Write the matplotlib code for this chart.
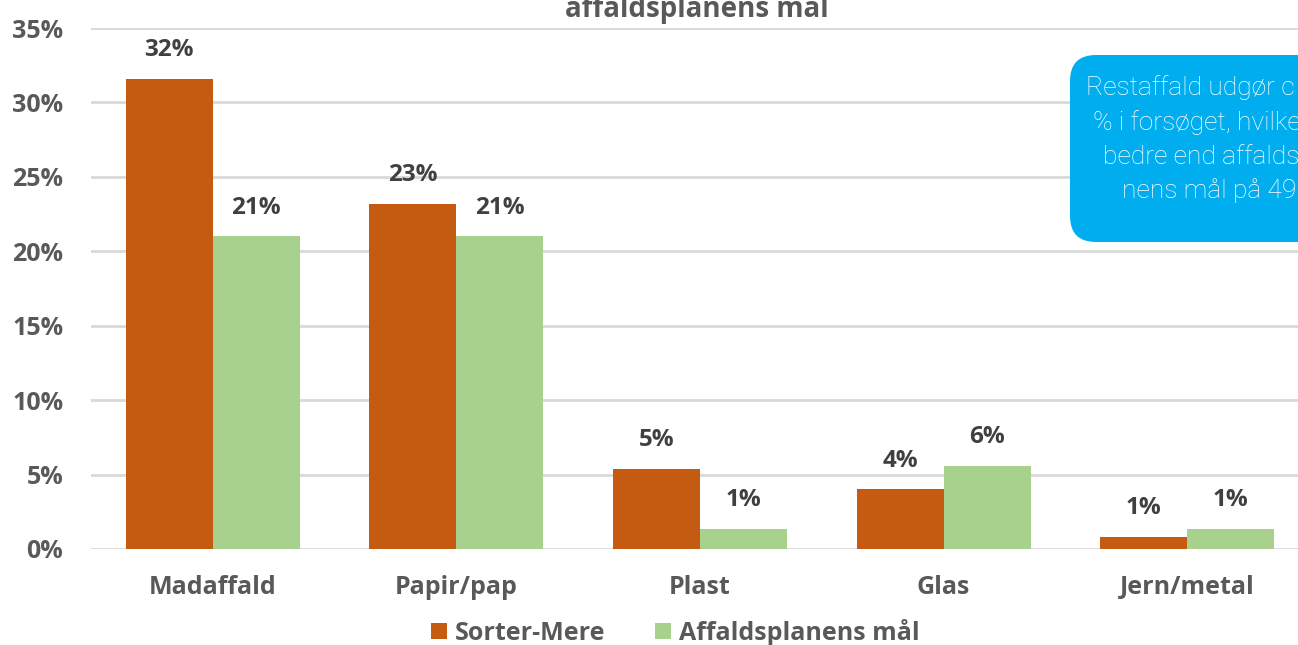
import numpy as np
import matplotlib
matplotlib.use('Agg')
from matplotlib import pyplot as plt
from matplotlib.patches import FancyBboxPatch
from matplotlib.transforms import IdentityTransform

# ---------------- data ----------------
categories = ['Madaffald', 'Papir/pap', 'Plast', 'Glas', 'Jern/metal']
sorter_mere = [31.6, 23.2, 5.4, 4.0, 0.8]
plan_maal = [21.0, 21.0, 1.35, 5.6, 1.35]
sorter_labels = ['32%', '23%', '5%', '4%', '1%']
plan_labels = ['21%', '21%', '1%', '6%', '1%']
yticks = [0, 5, 10, 15, 20, 25, 30, 35]
callout_lines = ['Restaffald udgør c', '% i forsøget, hvilke',
                 'bedre end affalds', 'nens mål på 49']

orange = '#C55A11'
green = '#A9D18E'
grey_txt = '#595959'
dark_txt = '#404040'

plt.rcParams['font.family'] = ['Open Sans', 'DejaVu Sans']

fig = plt.figure(figsize=(12.98, 6.45), dpi=100)
ax = fig.add_axes([91 / 1298, 96 / 645, 1218 / 1298, 521 / 645])

x = np.arange(len(categories))
w = 0.357
b1 = ax.bar(x - w / 2, sorter_mere, w, color=orange, label='Sorter-Mere', zorder=3)
b2 = ax.bar(x + w / 2, plan_maal, w, color=green, label='Affaldsplanens mål', zorder=3)

# data labels above the bars
for bars, labs in ((b1, sorter_labels), (b2, plan_labels)):
    for rect, lab in zip(bars, labs):
        ax.annotate(lab, (rect.get_x() + rect.get_width() / 2, rect.get_height()),
                    xytext=(0, 12), textcoords='offset points', ha='center', va='bottom',
                    fontsize=17.5, fontweight='bold', color=dark_txt)

ax.set_xlim(-0.5, len(categories) - 0.5)
ax.set_ylim(0, 35)
ax.set_yticks(yticks)
ax.set_yticklabels([f'{v}%' for v in yticks])
ax.set_xticks(x)
ax.set_xticklabels(categories)
ax.tick_params(axis='y', length=0, pad=20, labelsize=18, labelcolor=grey_txt)
ax.tick_params(axis='x', length=0, pad=19, labelsize=18, labelcolor=grey_txt)
for lab in ax.get_xticklabels() + ax.get_yticklabels():
    lab.set_fontweight('bold')
ax.grid(axis='y', color='#D9D9D9', linewidth=2, zorder=0)
for s in ax.spines.values():
    s.set_visible(False)

# title (top cut off like the reference)
fig.text(697 / 1298, 1 - 8 / 645, 'affaldsplanens mål', ha='center', va='center',
         fontsize=20, fontweight='bold', color=grey_txt)

leg = fig.legend(loc='lower center', bbox_to_anchor=(675 / 1298, -0.036), ncol=2,
                 frameon=False, fontsize=18, handlelength=0.65, handleheight=0.65,
                 handletextpad=0.3, columnspacing=2.0)
for t in leg.get_texts():
    t.set_fontweight('bold')
    t.set_color(grey_txt)

# callout box (cropped at right edge)
box = FancyBboxPatch((1070, 645 - 242), 500, 187, boxstyle='round,pad=0,rounding_size=26',
                     transform=IdentityTransform(), facecolor='#00AEEF', edgecolor='none')
fig.patches.append(box)
line_x = [1086, 1093, 1103, 1122]
line_y = [88, 123, 157, 191]
for txt, lx, ly in zip(callout_lines, line_x, line_y):
    fig.text(lx / 1298, 1 - ly / 645, txt, ha='left', va='center', fontsize=19,
             family=['Roboto', 'DejaVu Sans'], fontweight='light', color='white')

fig.savefig('out.png', dpi=100)
